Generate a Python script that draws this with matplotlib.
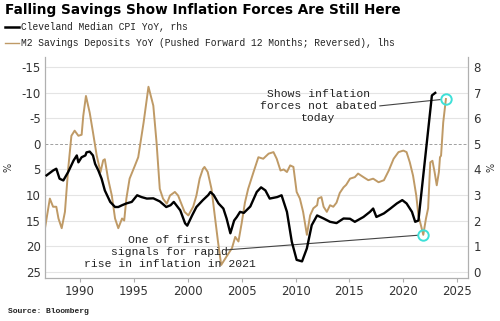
import matplotlib
matplotlib.use("Agg")
import matplotlib.pyplot as plt
from matplotlib.lines import Line2D

# Cleveland median CPI YoY (rhs, %)
cpi_year = [1986.9, 1987.5, 1987.8, 1988.1, 1988.45, 1988.9, 1989.4, 1989.7, 1989.85, 1990.15,
            1990.5, 1990.6, 1990.9, 1991.2, 1991.4, 1991.7, 1992.0, 1992.3, 1992.8, 1993.25,
            1993.55, 1993.9, 1994.3, 1994.8, 1995.3, 1995.7, 1996.2, 1996.8, 1997.4, 1998.0,
            1998.4, 1998.7, 1999.3, 1999.75, 1999.95, 2000.4, 2000.8, 2001.4, 2001.9, 2002.1,
            2002.4, 2002.85, 2003.3, 2003.6, 2003.95, 2004.3, 2004.55, 2004.85, 2005.2, 2005.8,
            2006.4, 2006.8, 2007.2, 2007.6, 2008.3, 2008.7, 2009.2, 2009.65, 2010.1, 2010.6,
            2011.05, 2011.5, 2012.0, 2012.6, 2013.2, 2013.8, 2014.45, 2015.05, 2015.5, 2016.3,
            2016.9, 2017.2, 2017.5, 2018.2, 2018.8, 2019.4, 2019.9, 2020.3, 2020.8, 2021.1,
            2021.4, 2022.65, 2022.96]
cpi_val = [3.77, 3.96, 4.03, 3.64, 3.57, 3.9, 4.35, 4.55, 4.28, 4.48,
           4.55, 4.67, 4.7, 4.55, 4.22, 3.96, 3.64, 3.18, 2.73, 2.53,
           2.53, 2.6, 2.67, 2.73, 2.99, 2.92, 2.86, 2.87, 2.75, 2.53,
           2.6, 2.73, 2.4, 1.89, 1.8, 2.2, 2.53, 2.8, 3.0, 3.12,
           3.0, 2.67, 2.47, 2.08, 1.5, 2.0, 2.14, 2.34, 2.3, 2.55,
           3.12, 3.3, 3.18, 2.86, 2.92, 2.99, 2.34, 1.17, 0.46, 0.4,
           0.91, 1.82, 2.2, 2.08, 1.95, 1.9, 2.08, 2.07, 1.95, 2.14,
           2.34, 2.47, 2.14, 2.28, 2.47, 2.67, 2.8, 2.67, 2.34, 1.95,
           2.0, 6.9, 7.0]

# M2 savings deposits YoY, pushed forward 12 months (lhs, reversed, %)
m2_year = [1986.75, 1987.2, 1987.5, 1987.8, 1988.0, 1988.3, 1988.6, 1988.9, 1989.2, 1989.5,
           1989.85, 1990.15, 1990.3, 1990.55, 1990.9, 1991.2, 1991.55, 1991.9, 1992.15, 1992.3,
           1992.6, 1992.95, 1993.25, 1993.55, 1993.9, 1994.1, 1994.3, 1994.6, 1995.1, 1995.4,
           1995.9, 1996.35, 1996.8, 1997.1, 1997.4, 1997.7, 1998.05, 1998.35, 1998.8, 1999.1,
           1999.4, 1999.7, 2000.05, 2000.5, 2000.8, 2001.1, 2001.4, 2001.55, 2001.85, 2002.2,
           2002.5, 2002.8, 2003.1, 2003.4, 2003.7, 2004.1, 2004.4, 2004.7, 2005.0, 2005.3,
           2005.6, 2006.1, 2006.55, 2007.0, 2007.5, 2007.95, 2008.25, 2008.6, 2008.9, 2009.2,
           2009.5, 2009.8, 2010.1, 2010.4, 2010.7, 2011.05, 2011.35, 2011.65, 2012.0, 2012.1,
           2012.4, 2012.6, 2012.9, 2013.2, 2013.5, 2013.8, 2014.1, 2014.45, 2014.7, 2015.05,
           2015.5, 2015.8, 2016.3, 2016.75, 2017.2, 2017.7, 2018.2, 2018.65, 2019.1, 2019.55,
           2020.0, 2020.3, 2020.6, 2020.9, 2021.2, 2021.4, 2021.7, 2021.85, 2022.1, 2022.3,
           2022.5, 2022.7, 2022.9, 2023.1, 2023.3, 2023.4, 2023.5, 2023.7, 2023.95]
m2_val = [16.5, 10.7, 12.3, 12.3, 14.6, 16.5, 13.3, 4.9, -1.6, -2.6,
          -1.6, -1.8, -5.5, -9.4, -6.1, -2.3, 2.3, 5.5, 3.2, 3.0,
          6.8, 10.1, 14.6, 16.5, 14.6, 15.0, 10.7, 6.8, 4.2, 2.6,
          -4.2, -11.2, -7.5, -0.3, 8.8, 10.7, 11.7, 10.1, 9.4, 10.1,
          11.7, 13.3, 14.0, 12.3, 10.1, 6.8, 4.9, 4.5, 5.5, 8.8,
          14.0, 19.1, 23.7, 22.7, 21.7, 20.4, 18.2, 19.1, 15.5, 11.5,
          8.8, 5.5, 2.6, 2.9, 1.9, 1.6, 2.9, 5.2, 5.0, 5.5,
          4.2, 4.5, 9.4, 10.7, 13.3, 17.8, 14.0, 12.6, 12.0, 10.7,
          10.4, 12.3, 13.3, 12.0, 12.3, 11.5, 9.6, 8.5, 8.0, 6.8,
          6.5, 5.8, 6.5, 7.1, 6.8, 7.5, 7.1, 5.2, 2.9, 1.6,
          1.3, 1.6, 3.6, 6.2, 10.1, 14.0, 16.5, 17.8, 14.6, 12.6,
          3.6, 3.3, 5.5, 8.1, 5.5, 2.6, 2.3, -4.2, -8.8]

left_ticks = [-15, -10, -5, 0, 5, 10, 15, 20, 25]
right_ticks = [0, 1, 2, 3, 4, 5, 6, 7, 8]
year_ticks = [1990, 1995, 2000, 2005, 2010, 2015, 2020, 2025]

gold = "#bf9a66"
cyan = "#3ee0d8"
grey = "#b0b0b0"
mono = ["Liberation Mono", "DejaVu Sans Mono"]

fig = plt.figure(figsize=(5, 3.21), dpi=100)
ax = fig.add_axes([0.09, 0.134, 0.846, 0.688])
ax2 = ax.twinx()

r0, r1 = -0.25, 8.4
ax2.set_ylim(r0, r1)
ax.set_ylim(25 - 5 * r0, 25 - 5 * r1)   # lhs reversed, 5 lhs units per rhs unit
ax.set_xlim(1986.75, 2026.0)

for v in left_ticks:
    if v == 0:
        ax.axhline(v, color="#a0a0a0", lw=0.7, ls=(0, (3, 2)), zorder=0)
    else:
        ax.axhline(v, color="#e4e4e4", lw=0.8, zorder=0)

ax.plot(m2_year, m2_val, color=gold, lw=1.4, zorder=3)
ax2.plot(cpi_year, cpi_val, color="black", lw=1.7, zorder=3)

# circles at the recent M2 trough and the latest reading
recent = m2_val[-20:]
i_min = len(m2_val) - 20 + recent.index(max(recent))
i_last = len(m2_val) - 1
for i in (i_min, i_last):
    ax.plot(m2_year[i], m2_val[i], "o", ms=7.5, mfc="none", mec=cyan, mew=1.4, zorder=5)

ax.set_yticks(left_ticks)
ax.set_yticklabels([str(t) for t in left_ticks])
ax2.set_yticks(right_ticks)
ax.set_xticks(year_ticks)
ax.tick_params(axis="y", length=0, labelsize=8.5, colors="#333333", pad=3)
ax2.tick_params(axis="y", length=0, labelsize=8.5, colors="#333333", pad=4)
ax.tick_params(axis="x", length=3, labelsize=8.5, colors="#333333", pad=2)
ax.tick_params(axis="x", color=grey)
for a in (ax, ax2):
    a.spines["top"].set_visible(False)
    for s in ("left", "right", "bottom"):
        a.spines[s].set_color(grey)
        a.spines[s].set_linewidth(0.8)
ax.set_ylabel("%", fontsize=7, color="#333333", labelpad=6)
ax2.set_ylabel("%", fontsize=7, color="#333333", labelpad=4)

# annotations
ax2.text(2012.1, 6.49, "Shows inflation\nforces not abated\ntoday", ha="center", va="center",
         fontsize=8.2, family=mono, color="#222222", linespacing=1.25, zorder=6)
ax.annotate("", xy=(m2_year[i_last], m2_val[i_last]), xytext=(2017.8, 25 - 5 * 6.49),
            arrowprops=dict(arrowstyle="-", color="#444444", lw=0.8, shrinkA=0, shrinkB=4))
ax2.text(1998.3, 0.77, "One of first\nsignals for rapid\nrise in inflation in 2021", ha="center",
         va="center", fontsize=8.2, family=mono, color="#222222", linespacing=1.25, zorder=6)
ax.annotate("", xy=(m2_year[i_min], m2_val[i_min]), xytext=(2003.55, 25 - 5 * 0.85),
            arrowprops=dict(arrowstyle="-", color="#444444", lw=0.8, shrinkA=0, shrinkB=4))

# title and legend
fig.text(0.01, 0.968, "Falling Savings Show Inflation Forces Are Still Here", fontsize=9.8,
         fontweight="heavy", ha="left", va="center", color="black")
fig.add_artist(Line2D([0.01, 0.038], [0.916, 0.916], color="black", lw=1.8))
fig.add_artist(Line2D([0.01, 0.038], [0.866, 0.866], color=gold, lw=1.0))
fig.text(0.042, 0.916, "Cleveland Median CPI YoY, rhs", fontsize=6.9, family=mono,
         ha="left", va="center", color="#222222")
fig.text(0.042, 0.866, "M2 Savings Deposits YoY (Pushed Forward 12 Months; Reversed), lhs",
         fontsize=6.9, family=mono, ha="left", va="center", color="#222222")
fig.text(0.016, 0.031, "Source: Bloomberg", fontsize=5.8, fontweight="bold", family=mono,
         ha="left", va="center", color="#222222")

fig.savefig("out.png", dpi=100)
